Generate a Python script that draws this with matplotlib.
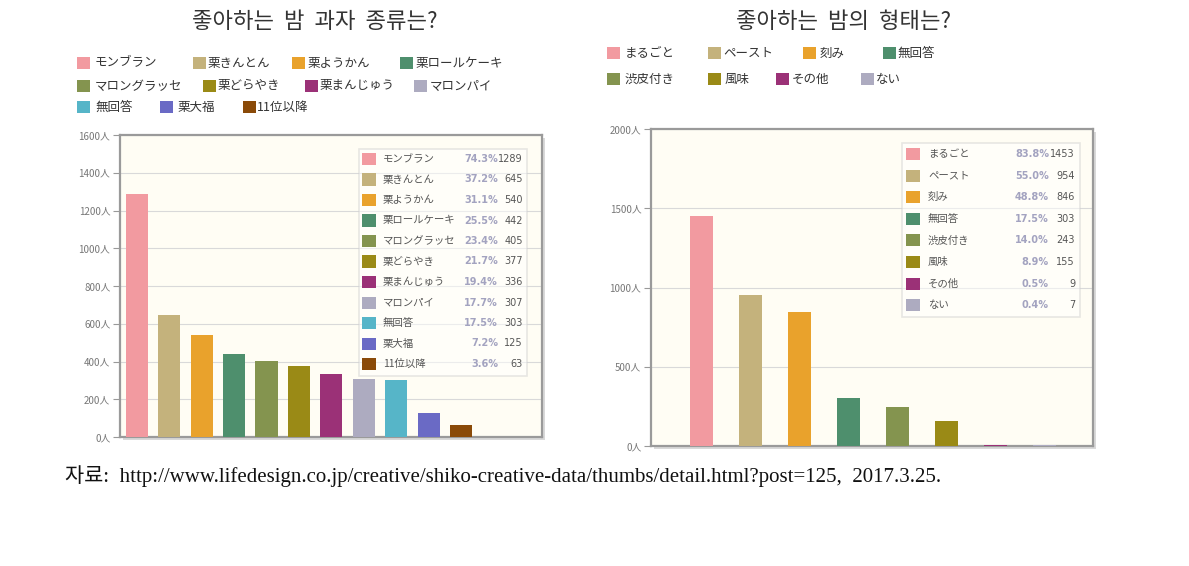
import matplotlib
matplotlib.use("Agg")
from matplotlib import pyplot as plt
from matplotlib.patches import Rectangle
import numpy as np

# data
sweets = ['モンブラン', '栗きんとん', '栗ようかん', '栗ロールケーキ', 'マロングラッセ',
          '栗どらやき', '栗まんじゅう', 'マロンパイ', '無回答', '栗大福', '11位以降']
sweets_n = [1289, 645, 540, 442, 405, 377, 336, 307, 303, 125, 63]
sweets_pct = [74.3, 37.2, 31.1, 25.5, 23.4, 21.7, 19.4, 17.7, 17.5, 7.2, 3.6]
sweets_ticks = [0, 200, 400, 600, 800, 1000, 1200, 1400, 1600]

forms = ['まるごと', 'ペースト', '刻み', '無回答', '渋皮付き', '風味', 'その他', 'ない']
forms_n = [1453, 954, 846, 303, 243, 155, 9, 7]
forms_pct = [83.8, 55.0, 48.8, 17.5, 14.0, 8.9, 0.5, 0.4]
forms_ticks = [0, 500, 1000, 1500, 2000]

palette = ['#f29aa0', '#c4b27c', '#e9a22c', '#4e8f6d', '#84944f', '#9a8a16',
           '#9b3177', '#adabc0', '#56b5c8', '#6a6ac5', '#8a4a08']

title_left = '좋아하는  밤  과자  종류는?'
title_right = '좋아하는  밤의  형태는?'
source = '자료:  http://www.lifedesign.co.jp/creative/shiko-creative-data/thumbs/detail.html?post=125,  2017.3.25.'

W, H = 1189, 566
JP = ['Noto Sans CJK JP', 'DejaVu Sans']
KR = ['Noto Sans CJK KR', 'DejaVu Sans']

fig = plt.figure(figsize=(W / 100, H / 100), dpi=100)
fig.patch.set_facecolor('white')


def fx(x):
    return x / W


def fy(y):
    return 1 - y / H


def chart(rect, vals, ticks, colors, xlim, width):
    x0, y0, x1, y1 = rect
    # drop shadow behind the frame
    fig.patches.append(Rectangle((fx(x0 + 3), fy(y1 + 3)), fx(x1 - x0), (y1 - y0) / H,
                                 transform=fig.transFigure, facecolor='#d9d9d9',
                                 edgecolor='none', zorder=-1))
    ax = fig.add_axes([fx(x0), fy(y1), fx(x1 - x0), (y1 - y0) / H])
    ax.set_facecolor('#fffdf4')
    ax.bar(np.arange(len(vals)), vals, width=width, color=colors, zorder=3)
    ax.set_xlim(*xlim)
    ax.set_ylim(ticks[0], ticks[-1])
    ax.set_yticks(ticks)
    ax.set_yticklabels(['%d人' % t for t in ticks], fontfamily=JP, fontsize=7, color='#777777')
    ax.set_xticks([])
    ax.tick_params(axis='y', length=5, color='#999999', pad=2)
    ax.grid(axis='y', color='#d9d9d9', linewidth=0.8, zorder=1)
    for s in ax.spines.values():
        s.set_color('#9a9a9a')
        s.set_linewidth(1.6)
    return ax


def inner_legend(box, rows_y, sq_x, txt_x, pct_x, n_x, names, pcts, nums, colors):
    bx0, by0, bx1, by1 = box
    fig.patches.append(Rectangle((fx(bx0), fy(by1)), fx(bx1 - bx0), (by1 - by0) / H,
                                 transform=fig.transFigure, facecolor='#ffffff',
                                 alpha=0.5, edgecolor='#d0d0d0', linewidth=1.2, zorder=5))
    y_first, step = rows_y
    for i, (nm, p, n) in enumerate(zip(names, pcts, nums)):
        y = y_first + step * i
        fig.patches.append(Rectangle((fx(sq_x), fy(y + 6)), fx(14), 12 / H,
                                     transform=fig.transFigure, facecolor=colors[i],
                                     edgecolor='none', zorder=6))
        fig.text(fx(txt_x), fy(y), nm, fontfamily=JP, fontsize=7.5, color='#555555',
                 va='center', ha='left', zorder=7)
        fig.text(fx(pct_x), fy(y), '%.1f%%' % p, fontsize=7, color='#a3a3c0',
                 fontweight='bold', va='center', ha='right', zorder=7)
        fig.text(fx(n_x), fy(y), '%d' % n, fontsize=7, color='#555555',
                 va='center', ha='right', zorder=7)


def top_legend(names, pos, colors):
    for nm, (sx, tx, y), c in zip(names, pos, colors):
        fig.patches.append(Rectangle((fx(sx), fy(y + 6)), fx(13), 12 / H,
                                     transform=fig.transFigure, facecolor=c,
                                     edgecolor='none'))
        fig.text(fx(tx), fy(y), nm, fontfamily=JP, fontsize=9, color='#333333',
                 va='center', ha='left')


# left chart
chart((120, 135, 542, 437), sweets_n, sweets_ticks, palette, (-0.52, 12.5), 0.68)
inner_legend((359, 149, 527, 376), (159, 20.5), 362, 383, 498, 523,
             sweets, sweets_pct, sweets_n, palette)
left_pos = [(77, 95, 63), (193, 207, 63), (292, 307, 63), (400, 415, 63),
            (77, 95, 86), (203, 218, 86), (305, 320, 86), (414, 430, 86),
            (77, 95, 107), (160, 177, 107), (243, 257, 107)]
top_legend(sweets, left_pos, palette)
fig.text(fx(315), fy(22), title_left, fontfamily=KR, fontsize=16, color='#333333',
         ha='center', va='center')

# right chart
chart((651, 129, 1093, 446), forms_n, forms_ticks, palette[:8], (-1.03, 8.0), 0.47)
inner_legend((902, 143, 1080, 317), (154, 21.6), 906, 928, 1049, 1075,
             forms, forms_pct, forms_n, palette[:8])
right_pos = [(607, 625, 53), (708, 723, 53), (803, 820, 53), (883, 897, 53),
             (607, 625, 79), (708, 725, 79), (776, 792, 79), (861, 876, 79)]
top_legend(forms, right_pos, palette[:8])
fig.text(fx(843), fy(22), title_right, fontfamily=KR, fontsize=16, color='#333333',
         ha='center', va='center')

fig.text(fx(65), fy(476), source, fontfamily=['Liberation Serif', 'Noto Sans CJK KR'],
         fontsize=15, color='#111111', ha='left', va='center')

fig.savefig('out.png', dpi=100)
